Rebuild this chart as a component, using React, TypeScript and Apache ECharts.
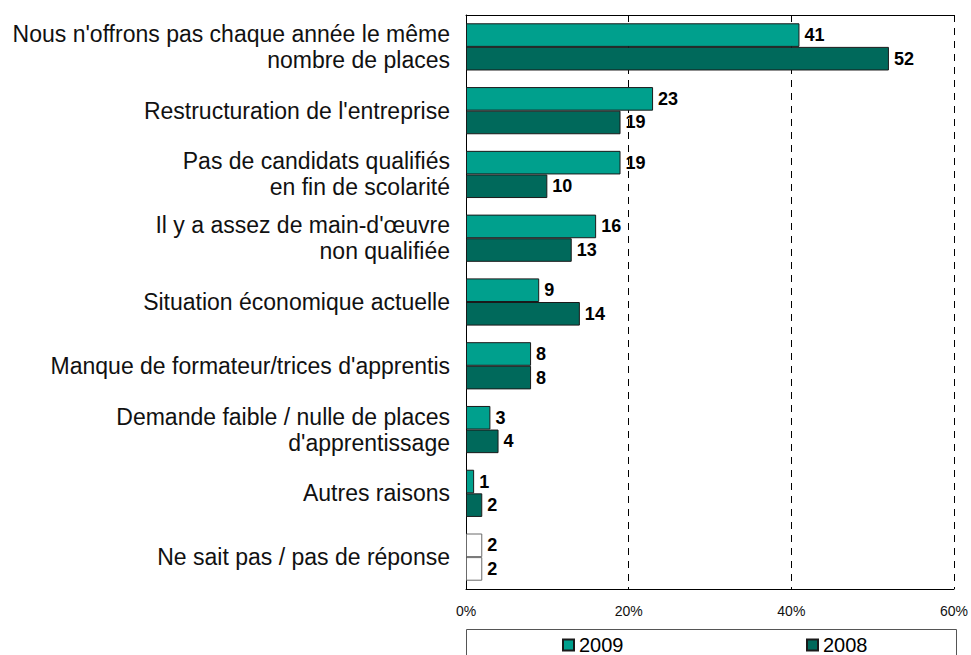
import React, { useEffect, useRef } from "react";
import * as echarts from "echarts";

const categories = [
  "Nous n'offrons pas chaque année le même\nnombre de places",
  "Restructuration de l'entreprise",
  "Pas de candidats qualifiés\nen fin de scolarité",
  "Il y a assez de main-d'œuvre\nnon qualifiée",
  "Situation économique actuelle",
  "Manque de formateur/trices d'apprentis",
  "Demande faible / nulle de places\nd'apprentissage",
  "Autres raisons",
  "Ne sait pas / pas de réponse",
];
const values2009 = [41, 23, 19, 16, 9, 8, 3, 1, 2];
const values2008 = [52, 19, 10, 13, 14, 8, 4, 2, 2];
const neutralIndex = 8;

const FONT = "Liberation Sans, Arial, sans-serif";

function buildData(vals: number[]) {
  return vals.map((v, i) =>
    i === neutralIndex
      ? { value: v, itemStyle: { color: "#ffffff", borderColor: "#6b6b6b" } }
      : v
  );
}

export default function App() {
  const ref = useRef<HTMLDivElement>(null);
  useEffect(() => {
    if (!ref.current) return;
    const chart = echarts.init(ref.current, undefined, { renderer: "svg" });
    const label = {
      show: true,
      position: "right",
      distance: 5,
      color: "#000",
      fontWeight: "bold",
      fontSize: 18,
      fontFamily: FONT,
    };
    const legendBase = {
      top: 635,
      padding: 0,
      icon: "rect",
      itemWidth: 11,
      itemHeight: 11,
      itemGap: 5,
      textStyle: { fontSize: 20, color: "#000", fontFamily: FONT },
    };
    chart.setOption({
      animation: false,
      textStyle: { fontFamily: FONT },
      grid: { left: 466, right: 16, top: 15, bottom: 66, containLabel: false },
      legend: [
        { ...legendBase, data: ["2009"], left: 562 },
        { ...legendBase, data: ["2008"], left: 806 },
      ],
      graphic: [
        {
          type: "rect",
          shape: { x: 466.5, y: 629.5, width: 490, height: 40 },
          style: { fill: "none", stroke: "#555", lineWidth: 1 },
          z: -1,
        },
      ],
      xAxis: [
        {
          type: "value",
          min: 0,
          max: 60,
          interval: 20,
          axisLine: { show: true, lineStyle: { color: "#000", width: 1 } },
          axisTick: { show: false },
          axisLabel: {
            formatter: "{value}%",
            fontSize: 14,
            color: "#111",
            margin: 15,
            fontFamily: FONT,
          },
          splitLine: {
            show: true,
            lineStyle: { color: "#000", width: 1, type: [7, 6] },
          },
        },
        {
          type: "value",
          position: "top",
          min: 0,
          max: 60,
          interval: 20,
          axisLine: { show: true, lineStyle: { color: "#000", width: 1 } },
          axisTick: { show: false },
          axisLabel: { show: false },
          splitLine: { show: false },
        },
      ],
      yAxis: {
        type: "category",
        data: categories,
        inverse: true,
        axisLine: { show: true, lineStyle: { color: "#000", width: 1 } },
        axisTick: { show: false },
        axisLabel: {
          fontSize: 23,
          lineHeight: 26,
          color: "#111",
          margin: 16,
          align: "right",
          padding: [5, 0, 0, 0],
          fontFamily: FONT,
        },
        splitLine: { show: false },
      },
      series: [
        {
          name: "2009",
          type: "bar",
          data: buildData(values2009),
          barGap: "0%",
          barCategoryGap: "26%",
          itemStyle: { color: "#00A08D", borderColor: "#1a1a1a", borderWidth: 1 },
          label,
        },
        {
          name: "2008",
          type: "bar",
          data: buildData(values2008),
          barGap: "0%",
          barCategoryGap: "26%",
          itemStyle: { color: "#00695B", borderColor: "#1a1a1a", borderWidth: 1 },
          label,
        },
      ],
    });
    return () => chart.dispose();
  }, []);
  return (
    <div
      ref={ref}
      style={{ position: "absolute", left: 0, top: 0, width: 971, height: 655 }}
    />
  );
}
